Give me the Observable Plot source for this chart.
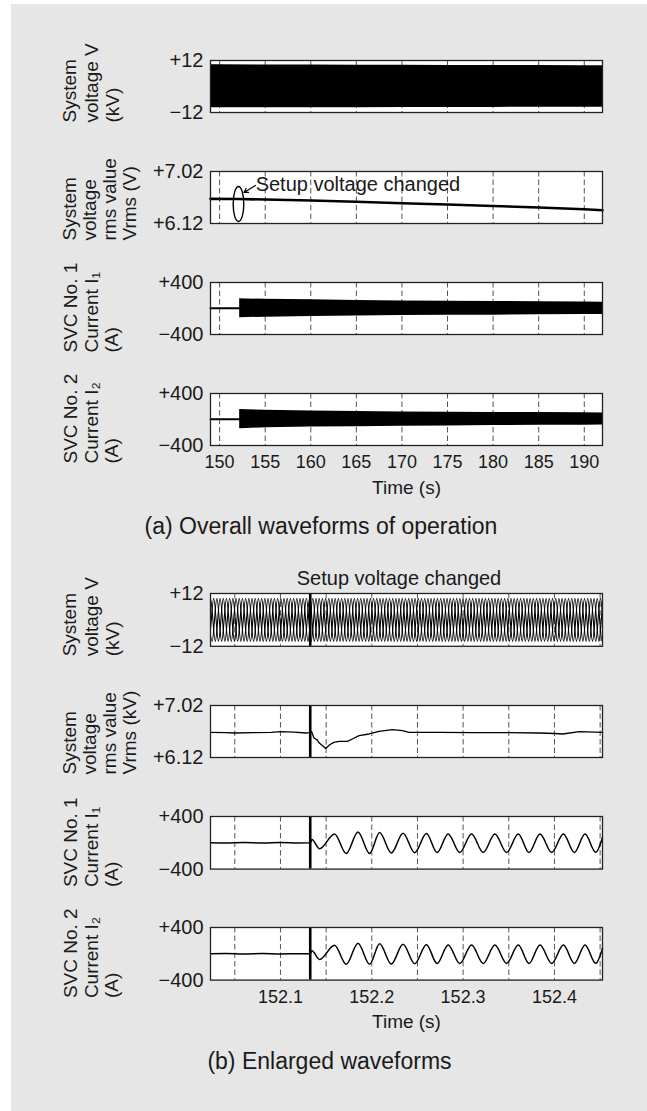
<!DOCTYPE html>
<html>
<head>
<meta charset="utf-8">
<script src="https://cdn.jsdelivr.net/npm/d3@7"></script>
<script src="https://cdn.jsdelivr.net/npm/@observablehq/plot@0.6"></script>
<style>
  html, body { margin: 0; padding: 0; background: #fff; }
  #root { position: relative; width: 647px; height: 1111px; overflow: hidden; background: #fff;
          font-family: 'Liberation Sans', Arial, Helvetica, sans-serif; color: #1a1a1a; }
  #bg { position: absolute; left: 11px; top: 4px; right: 0; bottom: 0; background: #e6e6e6; }
  .cap { position: absolute; width: 600px; text-align: center; font-size: 23px; line-height: 23px; white-space: nowrap; }
</style>
</head>
<body>
<div id="root"><div id="bg"></div></div>
<script>
// ---------------- (a) Overall waveforms ----------------
const aTimeDomain = [149, 192];
const aTimeTicks = [150, 155, 160, 165, 170, 175, 180, 185, 190];
const aTimeTickLabels = ["150", "155", "160", "165", "170", "175", "180", "185", "190"];

// system voltage envelope (kV)
const aEnvTime   = [149, 150, 155, 160, 165, 170, 175, 180, 185, 190, 192];
const aVoltUpper = [10.0, 10.0, 9.95, 9.9, 9.85, 9.8, 9.75, 9.7, 9.65, 9.6, 9.55];
const aVoltLower = [-9.85, -9.85, -9.8, -9.75, -9.75, -9.7, -9.7, -9.65, -9.6, -9.55, -9.55];

// rms voltage
const aRmsTime  = [149, 152, 155, 160, 165, 170, 175, 180, 185, 190, 192];
const aRmsValue = [6.547, 6.545, 6.535, 6.518, 6.496, 6.47, 6.45, 6.423, 6.397, 6.366, 6.35];

// SVC currents envelope (A)
const aCurFlatTime = [149, 152.2];
const aCurFlatValue = [2, 2];
const aCurTime = [152.2, 153, 155, 160, 165, 170, 175, 180, 185, 190, 192];
const aI1Upper = [150, 147, 141, 134, 124, 117, 112, 108, 104, 99, 97];
const aI1Lower = [-143, -140, -133, -123, -115, -109, -105, -102, -98, -94, -93];
const aI2Upper = [153, 150, 143, 131, 122, 116, 112, 109, 107, 103, 101];
const aI2Lower = [-141, -137, -128, -116, -110, -105, -99, -94, -90, -87, -85];

// annotation (a)
const aNoteEllipse = {t: 152.07, v: 6.457};
const aNoteArrow = {x1: 153.93, y1: 6.778, x2: 152.67, y2: 6.657};
const aNoteText = {t: 153.95, v: 6.683, label: "Setup voltage changed"};

// ---------------- (b) Enlarged waveforms ----------------
const bTimeDomain = [152.0234, 152.4526];
const bGridTicks = [152.05, 152.1, 152.15, 152.2, 152.25, 152.3, 152.35, 152.4, 152.45];
const bTimeTicks = [152.1, 152.2, 152.3, 152.4];
const bTimeTickLabels = ["152.1", "152.2", "152.3", "152.4"];
const bEventTime = 152.1326;

// three-phase system voltage: crest amplitude, phase shift and half period
const bVoltPhaseAmp = [9.75, 9.7, 9.75];          // kV
const bVoltPhaseShift = [0, 0.0035, 0.0070];      // s
const bVoltHalfPeriod = 0.00525;                  // s

// rms voltage (kV)
const bRmsTime = [152.0234, 152.04, 152.05, 152.07, 152.09, 152.1, 152.115, 152.1276, 152.1325, 152.1341,
  152.1367, 152.1404, 152.1425, 152.1465, 152.1495, 152.1539, 152.1586, 152.1641, 152.1733, 152.1787,
  152.186, 152.197, 152.208, 152.2226, 152.2336, 152.2409, 152.2738, 152.3103, 152.3469, 152.3834,
  152.40, 152.409, 152.4273, 152.4529];
const bRmsValue = [6.556, 6.552, 6.544, 6.55, 6.556, 6.567, 6.56, 6.544, 6.55, 6.567,
  6.457, 6.42, 6.37, 6.32, 6.277, 6.341, 6.382, 6.40, 6.399, 6.44,
  6.498, 6.527, 6.573, 6.602, 6.585, 6.556, 6.556, 6.552, 6.55, 6.544,
  6.535, 6.527, 6.567, 6.556];

// SVC currents (A): extrema
const bCurTime = [152.0234, 152.04, 152.06, 152.08, 152.10, 152.12, 152.1326, 152.1344, 152.1428, 152.1592,
  152.172, 152.1849, 152.1976, 152.2086, 152.2214, 152.2342, 152.247, 152.2598, 152.2715, 152.2836,
  152.2964, 152.3092, 152.322, 152.3348, 152.3476, 152.3604, 152.3721, 152.3842, 152.397, 152.4098,
  152.4218, 152.4335, 152.4452, 152.4526];
const bI1Value = [0, -4, 3, -3, 4, -2, 0, 50, -90, 135,
  -162, 165, -162, 155, -155, 145, -150, 140, -148, 135,
  -148, 132, -147, 132, -147, 132, -147, 132, -147, 132,
  -147, 132, -145, 80];
const bI2Value = [0, 3, -3, 4, -3, 2, 0, 45, -85, 130,
  -160, 160, -160, 152, -155, 145, -150, 138, -148, 135,
  -147, 132, -146, 132, -146, 132, -146, 132, -146, 132,
  -146, 132, -145, 85];

// axis tick labels
const voltTicks = [-12, 12],     voltTickLabels = ["\u221212", "+12"];
const rmsTicks = [6.12, 7.02],   rmsTickLabels = ["+6.12", "+7.02"];
const curTicks = [-400, 400],    curTickLabels = ["\u2212400", "+400"];

// ---------------- helpers ----------------
const FONT = "'Liberation Sans', Arial, Helvetica, sans-serif";
const INK = "#1a1a1a";
const root = document.getElementById("root");
const zip = (xs, ys, k = "v") => xs.map((t, i) => ({t, [k]: ys[i]}));
const band = (ts, lo, hi) => ts.map((t, i) => ({t, lo: lo[i], hi: hi[i]}));

const ellipseSymbol = {
  draw(ctx) {
    const rx = 5.3, ry = 17.5, k = 0.5523;
    ctx.moveTo(rx, 0);
    ctx.bezierCurveTo(rx, ry * k, rx * k, ry, 0, ry);
    ctx.bezierCurveTo(-rx * k, ry, -rx, ry * k, -rx, 0);
    ctx.bezierCurveTo(-rx, -ry * k, -rx * k, -ry, 0, -ry);
    ctx.bezierCurveTo(rx * k, -ry, rx, -ry * k, rx, 0);
    ctx.closePath();
  }
};

function panel({xDomain, yDomain, frameTop, frameH, yTicks, yLabels, title, titleBaselines, titleOffset, marks, extra = []}) {
  const mt = 40, mb = 70;
  const labelMap = new Map(yTicks.map((d, i) => [d, yLabels[i]]));
  const titleMarks = title.map((line, i) => Plot.text([line], {
    frameAnchor: "bottom-left", text: d => d, rotate: -90, textAnchor: "start", lineAnchor: "bottom",
    dx: titleBaselines[i] - 210, dy: titleOffset, fontSize: 19, fill: INK
  }));
  const svg = Plot.plot({
    width: 647, height: frameH + mt + mb,
    marginLeft: 210, marginRight: 45, marginTop: mt, marginBottom: mb,
    x: {domain: xDomain, axis: null},
    y: {domain: yDomain, axis: null},
    style: {fontFamily: FONT, fontSize: "19px", color: INK, background: "transparent", overflow: "visible"},
    marks: [
      Plot.frame({fill: "white", stroke: "none"}),
      ...marks,
      Plot.frame({stroke: "#222", strokeWidth: 1.3}),
      Plot.axisY(yTicks, {tickSize: 0, tickPadding: 7, tickFormat: d => labelMap.get(d), fontSize: 20, label: null}),
      ...titleMarks,
      ...extra
    ]
  });
  svg.style.position = "absolute";
  svg.style.left = "0px";
  svg.style.top = (frameTop - mt) + "px";
  root.appendChild(svg);
}

const grid = ticks => Plot.ruleX(ticks, {stroke: "#555", strokeWidth: 1, strokeDasharray: "5.5,3"});
const voltTitle = ["System", "voltage V", "(kV)"];
const rmsTitleA = ["System", "voltage", "rms value", "Vrms (V)"];
const rmsTitleB = ["System", "voltage", "rms value", "Vrms (kV)"];
const i1Title = ["SVC No. 1", "Current I\u2081", "(A)"];
const i2Title = ["SVC No. 2", "Current I\u2082", "(A)"];
const b3 = [75, 97, 118], b4 = [75, 95, 115, 135], bI = [76, 97, 117];

function xAxisMarks(ticks, labels) {
  const m = new Map(ticks.map((d, i) => [d, labels[i]]));
  return [
    Plot.axisX(ticks, {tickSize: 0, tickPadding: 10, fontSize: 18, label: null, tickFormat: d => m.get(d)}),
    Plot.text(["Time (s)"], {frameAnchor: "bottom", text: d => d, dy: 48, lineAnchor: "bottom", fontSize: 19, fill: INK})
  ];
}

// ---------------- (a) panels ----------------
panel({
  xDomain: aTimeDomain, yDomain: [-12, 12], frameTop: 60, frameH: 52,
  yTicks: voltTicks, yLabels: voltTickLabels, title: voltTitle, titleBaselines: b3, titleOffset: 10,
  marks: [
    grid(aTimeTicks),
    Plot.areaY(band(aEnvTime, aVoltLower, aVoltUpper), {x: "t", y1: "lo", y2: "hi", fill: "#000"})
  ]
});

panel({
  xDomain: aTimeDomain, yDomain: [6.12, 7.02], frameTop: 171, frameH: 52,
  yTicks: rmsTicks, yLabels: rmsTickLabels, title: rmsTitleA, titleBaselines: b4, titleOffset: 17,
  marks: [
    grid(aTimeTicks),
    Plot.line(zip(aRmsTime, aRmsValue), {x: "t", y: "v", stroke: "#000", strokeWidth: 2.6}),
    Plot.dot([aNoteEllipse], {x: "t", y: "v", symbol: ellipseSymbol, r: 1, stroke: "#000", fill: "none", strokeWidth: 1.4}),
    Plot.arrow([aNoteArrow], {x1: "x1", y1: "y1", x2: "x2", y2: "y2", stroke: "#000", strokeWidth: 1.2, headLength: 7}),
    Plot.text([aNoteText], {x: "t", y: "v", text: "label", textAnchor: "start", lineAnchor: "bottom", fontSize: 20, fill: INK})
  ]
});

panel({
  xDomain: aTimeDomain, yDomain: [-400, 400], frameTop: 282, frameH: 52,
  yTicks: curTicks, yLabels: curTickLabels, title: i1Title, titleBaselines: bI, titleOffset: 18,
  marks: [
    grid(aTimeTicks),
    Plot.line(zip(aCurFlatTime, aCurFlatValue), {x: "t", y: "v", stroke: "#000", strokeWidth: 2}),
    Plot.areaY(band(aCurTime, aI1Lower, aI1Upper), {x: "t", y1: "lo", y2: "hi", fill: "#000"})
  ]
});

panel({
  xDomain: aTimeDomain, yDomain: [-400, 400], frameTop: 393, frameH: 52,
  yTicks: curTicks, yLabels: curTickLabels, title: i2Title, titleBaselines: bI, titleOffset: 18,
  marks: [
    grid(aTimeTicks),
    Plot.line(zip(aCurFlatTime, aCurFlatValue), {x: "t", y: "v", stroke: "#000", strokeWidth: 2}),
    Plot.areaY(band(aCurTime, aI2Lower, aI2Upper), {x: "t", y1: "lo", y2: "hi", fill: "#000"})
  ],
  extra: xAxisMarks(aTimeTicks, aTimeTickLabels)
});

// ---------------- (b) panels ----------------
const bVoltData = [];
bVoltPhaseAmp.forEach((amp, p) => {
  let t = bTimeDomain[0] - 2 * bVoltHalfPeriod + bVoltPhaseShift[p];
  let s = 1;
  while (t <= bTimeDomain[1] + 2 * bVoltHalfPeriod) {
    bVoltData.push({phase: p, t, v: s * amp});
    t += bVoltHalfPeriod;
    s = -s;
  }
});

panel({
  xDomain: bTimeDomain, yDomain: [-12, 12], frameTop: 593.2, frameH: 52.8,
  yTicks: voltTicks, yLabels: voltTickLabels, title: voltTitle, titleBaselines: b3, titleOffset: 10,
  marks: [
    grid(bGridTicks),
    Plot.line(bVoltData, {x: "t", y: "v", z: "phase", stroke: "#000", strokeWidth: 1.1, curve: "monotone-x", clip: true}),
    Plot.ruleX([bEventTime], {stroke: "#000", strokeWidth: 2.6})
  ],
  extra: [
    Plot.text(["Setup voltage changed"], {frameAnchor: "top", text: d => d, dx: -7.5, dy: -8, lineAnchor: "bottom", fontSize: 20, fill: INK})
  ]
});

panel({
  xDomain: bTimeDomain, yDomain: [6.12, 7.02], frameTop: 704.8, frameH: 52,
  yTicks: rmsTicks, yLabels: rmsTickLabels, title: rmsTitleB, titleBaselines: b4, titleOffset: 17,
  marks: [
    grid(bGridTicks),
    Plot.line(zip(bRmsTime, bRmsValue), {x: "t", y: "v", stroke: "#000", strokeWidth: 1.3}),
    Plot.ruleX([bEventTime], {stroke: "#000", strokeWidth: 2.6})
  ]
});

panel({
  xDomain: bTimeDomain, yDomain: [-400, 400], frameTop: 815.8, frameH: 52.6,
  yTicks: curTicks, yLabels: curTickLabels, title: i1Title, titleBaselines: bI, titleOffset: 18,
  marks: [
    grid(bGridTicks),
    Plot.line(zip(bCurTime, bI1Value), {x: "t", y: "v", stroke: "#000", strokeWidth: 1.5, curve: "monotone-x"}),
    Plot.ruleX([bEventTime], {stroke: "#000", strokeWidth: 2.6})
  ]
});

panel({
  xDomain: bTimeDomain, yDomain: [-400, 400], frameTop: 926.8, frameH: 52.6,
  yTicks: curTicks, yLabels: curTickLabels, title: i2Title, titleBaselines: bI, titleOffset: 18,
  marks: [
    grid(bGridTicks),
    Plot.line(zip(bCurTime, bI2Value), {x: "t", y: "v", stroke: "#000", strokeWidth: 1.5, curve: "monotone-x"}),
    Plot.ruleX([bEventTime], {stroke: "#000", strokeWidth: 2.6})
  ],
  extra: xAxisMarks(bTimeTicks, bTimeTickLabels)
});

// ---------------- captions ----------------
function caption(text, centerX, baseline) {
  const d = document.createElement("div");
  d.className = "cap";
  d.textContent = text;
  d.style.left = (centerX - 300) + "px";
  d.style.top = (baseline - 19.5) + "px";
  root.appendChild(d);
}
caption("(a) Overall waveforms of operation", 321, 534);
caption("(b) Enlarged waveforms", 329.5, 1069);
</script>
</body>
</html>
